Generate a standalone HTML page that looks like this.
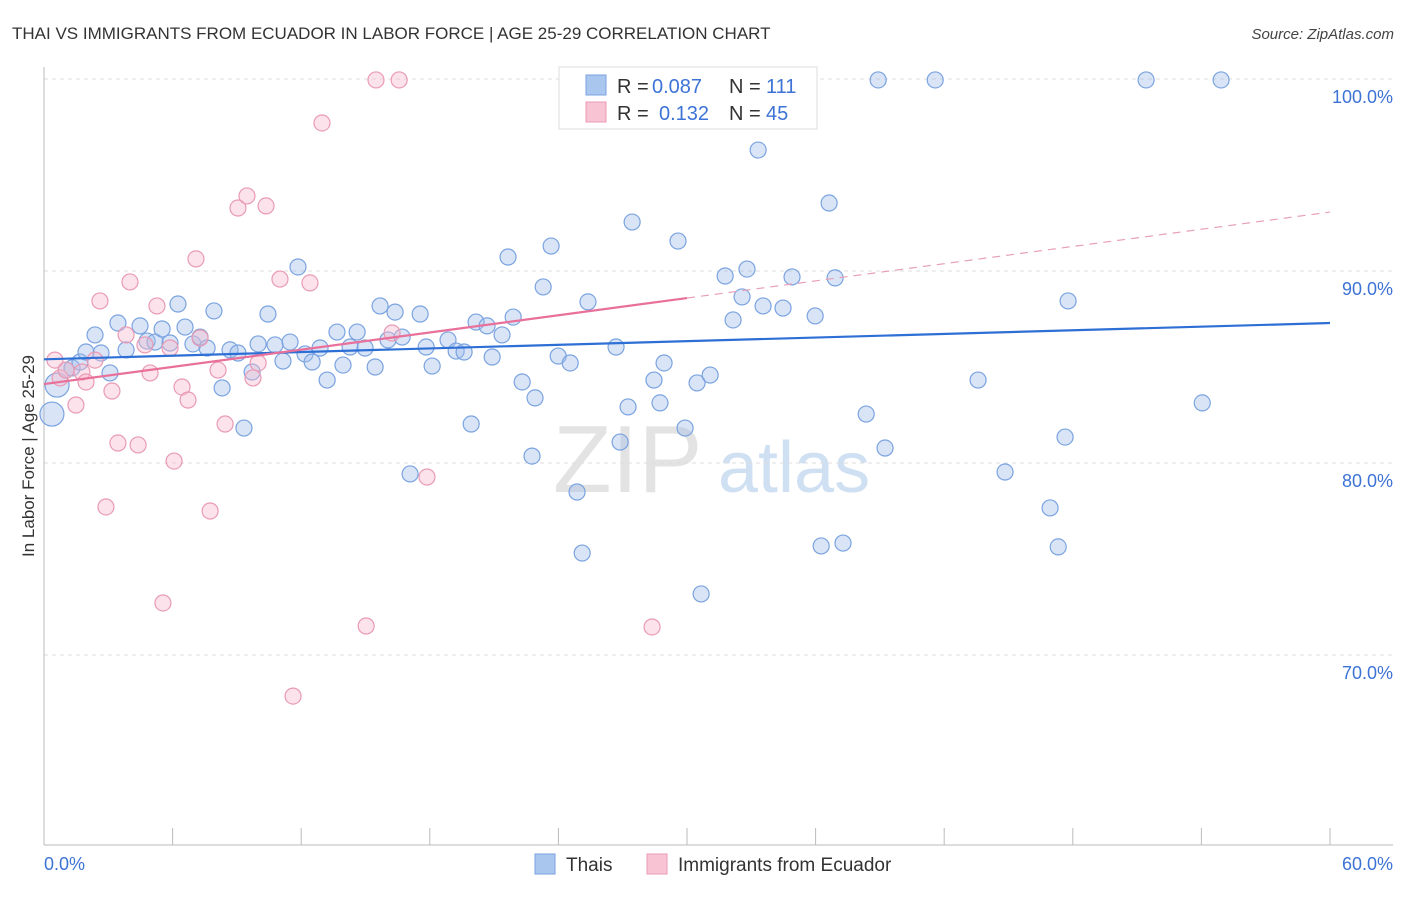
<!DOCTYPE html>
<html><head><meta charset="utf-8">
<style>
body{margin:0;background:#fff;font-family:"Liberation Sans",sans-serif;}
svg text{font-family:"Liberation Sans",sans-serif;}
</style></head>
<body>
<svg id="chart" width="1406" height="892" xmlns="http://www.w3.org/2000/svg">
<text x="12" y="39" font-size="17" fill="#333">THAI VS IMMIGRANTS FROM ECUADOR IN LABOR FORCE | AGE 25-29 CORRELATION CHART</text>
<text x="1394" y="39" font-size="15" fill="#444" text-anchor="end" font-style="italic">Source: ZipAtlas.com</text>
<g>
<text x="553" y="492" font-size="96" fill="#d8d8d8" font-family="Liberation Serif,serif" opacity="0.7">ZIP</text>
<text x="718" y="492" font-size="72" fill="#bcd3ee" opacity="0.7">atlas</text>
</g>
<g id="grid"></g>
<g id="axes"></g>
<g id="marks"></g>
<text transform="translate(34,456) rotate(-90)" font-size="17" fill="#333" text-anchor="middle">In Labor Force | Age 25-29</text>
<g>
<rect x="559" y="67" width="258" height="62" fill="#fff" stroke="#ddd"/>
<rect x="586" y="75" width="20" height="20" fill="#a9c6ef" stroke="#7aa3e0"/>
<rect x="586" y="102" width="20" height="20" fill="#f8c4d4" stroke="#e99ab4"/>
<text x="617" y="93" font-size="20" fill="#333">R =</text>
<text x="652" y="93" font-size="20" fill="#3d73d6">0.087</text>
<text x="729" y="93" font-size="20" fill="#333">N =</text>
<text x="766" y="93" font-size="20" fill="#3d73d6">111</text>
<text x="617" y="120" font-size="20" fill="#333">R =</text>
<text x="659" y="120" font-size="20" fill="#3d73d6">0.132</text>
<text x="729" y="120" font-size="20" fill="#333">N =</text>
<text x="766" y="120" font-size="20" fill="#3d73d6">45</text>
</g>
<g>
<rect x="535" y="854" width="20" height="20" fill="#a9c6ef" stroke="#7aa3e0"/>
<text x="566" y="871" font-size="19" fill="#333">Thais</text>
<rect x="647" y="854" width="20" height="20" fill="#f8c4d4" stroke="#e99ab4"/>
<text x="678" y="871" font-size="19" fill="#333">Immigrants from Ecuador</text>
</g>
</svg>
<script>
const blueX=[.37,.61,1.03,1.31,1.68,1.96,2.38,2.66,3.08,3.45,3.83,4.48,4.81,5.18,5.51,5.88,6.25,6.58,6.95,7.28,7.61,7.93,8.31,8.68,9.05,9.33,9.71,9.99,10.45,10.78,11.15,11.48,11.85,12.18,12.51,12.88,13.21,13.67,13.95,14.28,14.61,14.98,15.45,15.68,16.05,16.38,16.71,17.08,17.55,17.83,18.11,18.85,19.23,19.60,19.93,20.16,20.67,20.91,21.37,21.65,21.89,22.31,22.77,22.91,23.29,23.66,23.99,24.55,24.87,25.11,25.38,25.94,26.69,26.88,27.25,27.44,28.46,28.74,28.93,29.58,29.91,30.47,30.66,31.08,31.78,32.15,32.57,32.80,33.32,33.55,34.48,34.90,35.98,36.26,36.63,36.91,37.28,38.36,38.92,39.24,41.58,43.58,44.84,46.94,47.32,47.64,47.78,51.42,54.04,54.92];
const blueY=[82.55,84.06,84.84,84.95,85.26,85.78,86.67,85.73,84.69,87.29,85.89,87.14,86.35,86.30,86.98,86.25,88.28,87.08,86.20,86.56,85.99,87.92,83.91,85.89,85.73,81.82,84.74,86.20,87.76,86.15,85.31,86.30,90.21,85.68,85.26,85.99,84.32,86.82,85.10,86.04,86.82,85.99,85.00,88.18,86.41,87.86,86.56,79.43,87.76,86.04,85.05,86.41,85.83,85.78,82.03,87.34,87.14,85.52,86.67,90.73,87.60,84.22,80.36,83.39,89.17,91.30,85.57,85.21,78.49,75.31,88.39,99.95,86.04,81.09,82.92,92.55,84.32,83.13,85.21,91.56,81.82,84.17,73.18,84.58,89.74,87.45,88.65,90.10,96.30,88.18,88.07,89.69,87.66,75.68,93.54,89.64,75.83,82.55,99.95,80.78,99.95,84.32,79.53,77.66,75.63,81.35,88.44,99.95,83.13,99.95];
const pinkX=[.51,.75,1.03,1.49,1.77,1.96,2.38,2.61,2.89,3.17,3.45,3.83,4.01,4.39,4.71,4.95,5.27,5.55,5.88,6.07,6.44,6.72,7.09,7.28,7.75,8.12,8.45,9.05,9.47,9.75,9.99,10.36,11.01,11.62,12.41,12.97,15.03,15.49,16.24,16.57,17.87,28.37];
const pinkY=[85.36,84.43,84.84,83.02,84.74,84.22,85.36,88.44,77.71,83.75,81.04,86.67,89.43,80.94,86.15,84.69,88.18,72.71,85.99,80.10,83.96,83.28,90.63,86.51,77.50,84.84,82.03,93.28,93.91,84.43,85.21,93.39,89.58,67.86,89.38,97.71,71.51,99.95,86.77,99.95,79.27,71.46];
const blueTrend=[85.4,87.29];
const pinkTrend=[84.11,93.07];
const pinkSolidEnd=30;
const yTicks=[100,90,80,70];
const xTickLabels=["0.0%","60.0%"];
const NS="http://www.w3.org/2000/svg";
const X0=44,X1=1330,YT=79,PX=192/10;
function sx(v){return X0+(X1-X0)*v/60;}
function sy(v){return YT+(100-v)*PX;}
function el(t,a,p){const e=document.createElementNS(NS,t);for(const k in a)e.setAttribute(k,a[k]);document.getElementById(p).appendChild(e);return e;}
yTicks.forEach(t=>{
 const g=el('line',{x1:X0,x2:1393,y1:sy(t),y2:sy(t),stroke:'#ddd','stroke-dasharray':'4,4'},'grid');
 
 
 const l=el('text',{x:1393,y:sy(t)+24,'font-size':18,fill:'#3d73d6','text-anchor':'end'},'grid');
 l.textContent=t.toFixed(1)+'%';
 
 
});
let a=el('line',{x1:X0,x2:X0,y1:67,y2:845,stroke:'#bbb'},'axes');


a=el('line',{x1:X0,x2:1393,y1:845,y2:845,stroke:'#bbb'},'axes');


for(let i=0;i<=10;i++){
 const t=el('line',{x1:sx(i*6),x2:sx(i*6),y1:828,y2:845,stroke:'#bbb'},'axes');
 
 
}
let xl=el('text',{x:44,y:870,'font-size':18,fill:'#3d73d6'},'axes');xl.textContent=xTickLabels[0];


xl=el('text',{x:1393,y:870,'font-size':18,fill:'#3d73d6','text-anchor':'end'},'axes');xl.textContent=xTickLabels[1];


blueX.forEach((x,i)=>{
 const big=i<2;
 const c=el('circle',{cx:sx(x),cy:sy(blueY[i]),r:big?12:8,fill:'rgba(160,190,235,0.4)',stroke:'#7aa3e0','stroke-width':1.2},'marks');
 
 
});
pinkX.forEach((x,i)=>{
 const c=el('circle',{cx:sx(x),cy:sy(pinkY[i]),r:8,fill:'rgba(248,185,205,0.4)',stroke:'#e99ab4','stroke-width':1.2},'marks');
 
 
});
function py(x){return pinkTrend[0]+(pinkTrend[1]-pinkTrend[0])*x/60;}
let tl=el('line',{x1:sx(0),y1:sy(blueTrend[0]),x2:sx(60),y2:sy(blueTrend[1]),stroke:'#2e6fd6','stroke-width':2.2},'marks');


tl=el('line',{x1:sx(0),y1:sy(py(0)),x2:sx(pinkSolidEnd),y2:sy(py(pinkSolidEnd)),stroke:'#e8709a','stroke-width':2.2},'marks');


tl=el('line',{x1:sx(pinkSolidEnd),y1:sy(py(pinkSolidEnd)),x2:sx(60),y2:sy(py(60)),stroke:'#e8a0b8','stroke-width':1.2,'stroke-dasharray':'8,6'},'marks');


</script>
</body></html>
